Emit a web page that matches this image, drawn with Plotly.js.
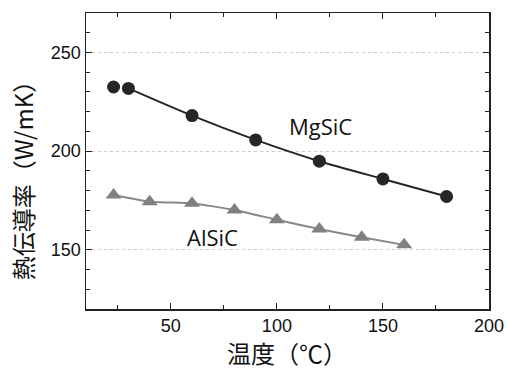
<!DOCTYPE html>
<html><head><meta charset="utf-8">
<script src="https://cdn.plot.ly/plotly-3.0.1.min.js"></script>
<style>html,body{margin:0;padding:0;background:#fff}#c{width:508px;height:369px}</style>
</head><body><div id="c"></div>
<script>
const mgX = [23, 30, 60, 90, 120, 150, 180];
const mgY = [232.5, 231.8, 218, 205.7, 194.9, 185.9, 177];
const alX = [23, 40, 60, 80, 100, 120, 140, 160];
const alY = [177.8, 174.4, 173.6, 170.2, 165.2, 160.5, 156.4, 152.5];
const mgLabel = "MgSiC", alLabel = "AlSiC";
const xTitle = "温度（℃）", yTitle = "熱伝導率（W/mK）";

const traces = [
  {x: mgX.slice(1), y: mgY.slice(1), mode: 'lines', line: {color: '#262626', width: 2, shape: 'spline', smoothing: 0.6}, hoverinfo: 'skip'},
  {x: mgX, y: mgY, mode: 'markers', marker: {symbol: 'circle', size: 13, color: '#262626'}},
  {x: alX, y: alY, mode: 'lines+markers', line: {color: '#888888', width: 2, shape: 'spline', smoothing: 0.4},
   marker: {symbol: 'triangle-up', size: 14, color: '#808080'}}
];
const axFont = {family: 'Liberation Sans, Arial, sans-serif', size: 18, color: '#111'};
const titleFont = {family: 'Noto Sans CJK JP, sans-serif', size: 24, color: '#111'};
const layout = {
  width: 508, height: 369,
  margin: {l: 86, r: 19, t: 13, b: 60},
  paper_bgcolor: '#fff', plot_bgcolor: '#fff',
  showlegend: false,
  xaxis: {range: [10, 200], tickvals: [50, 100, 150, 200], ticks: 'inside', ticklen: 6, tickcolor: '#222',
    showline: true, linecolor: '#222', linewidth: 1.5, mirror: 'ticks', showgrid: false, zeroline: false,
    minor: {dtick: 25, tick0: 0, ticks: 'inside', ticklen: 4, tickcolor: '#222', showgrid: false},
    tickfont: axFont},
  yaxis: {range: [120, 270], tickvals: [150, 200, 250], ticks: 'inside', ticklen: 6, tickcolor: '#222',
    showline: true, linecolor: '#222', linewidth: 1.5, mirror: 'ticks', zeroline: false,
    showgrid: true, gridcolor: '#cccccc', griddash: 'dot', gridwidth: 1,
    minor: {dtick: 10, tick0: 0, ticks: 'inside', ticklen: 4, tickcolor: '#222', showgrid: false},
    tickfont: axFont},
  annotations: [
    {xref: 'paper', yref: 'paper', x: 0.499, y: -0.147, xanchor: 'center', yanchor: 'middle', text: xTitle, showarrow: false, font: titleFont},
    {xref: 'paper', yref: 'paper', x: -0.159, y: 0.455, xanchor: 'center', yanchor: 'middle', textangle: -90, text: yTitle, showarrow: false, font: titleFont},
    {x: 120.5, y: 212.6, text: mgLabel, showarrow: false, font: {family: 'Open Sans, sans-serif', size: 22, color: '#111'}},
    {x: 69.5, y: 156.7, text: alLabel, showarrow: false, font: {family: 'Open Sans, sans-serif', size: 22, color: '#111'}}
  ]
};
Plotly.newPlot('c', traces, layout, {displayModeBar: false, staticPlot: true});
</script></body></html>
